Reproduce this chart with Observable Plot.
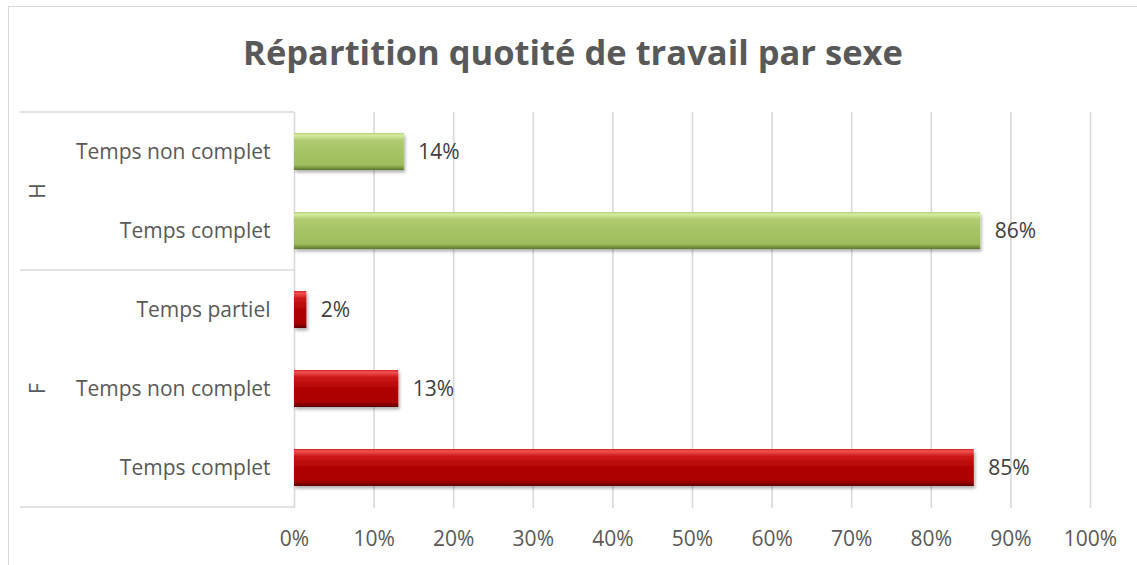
<!DOCTYPE html>
<html>
<head>
<meta charset="utf-8">
<script src="https://cdn.jsdelivr.net/npm/d3@7"></script>
<script src="https://cdn.jsdelivr.net/npm/@observablehq/plot@0.6"></script>
<style>
  html, body { margin: 0; padding: 0; background: #fff; }
  #wrap { position: relative; width: 1137px; height: 565px; overflow: hidden; font-family: "Open Sans", sans-serif; }
  #frame { position: absolute; left: 8px; top: 6px; width: 1200px; height: 700px; border-left: 1.5px solid #d9d9d9; border-top: 1.5px solid #d9d9d9; box-sizing: border-box; }
  #title { position: absolute; left: 8px; width: 1130px; top: 30px; text-align: center; font-weight: bold; font-size: 30px; line-height: 44px; color: #595959; font-family: "Open Sans", sans-serif; }
  #title span { display: inline-block; }
  #chart { position: absolute; left: 0; top: 90px; }
</style>
</head>
<body>
<div id="wrap">
  <div id="frame"></div>
  <div id="title"><span id="tt">Répartition quotité de travail par sexe</span></div>
  <div id="chart"></div>
</div>
<script>
// ---- data ----
const groups = ["H", "F"];
const categoriesH = ["Temps non complet", "Temps complet"];
const valuesH = [0.138, 0.862];
const categoriesF = ["Temps partiel", "Temps non complet", "Temps complet"];
const valuesF = [0.0155, 0.131, 0.854];
const xTicks = [0, 0.1, 0.2, 0.3, 0.4, 0.5, 0.6, 0.7, 0.8, 0.9, 1.0];

const rowsH = categoriesH.map((c, i) => ({group: "H", category: c, key: "H|" + c, value: valuesH[i]}));
const rowsF = categoriesF.map((c, i) => ({group: "F", category: c, key: "F|" + c, value: valuesF[i]}));
const rows = rowsH.concat(rowsF);
const pct = d3.format(".0%");

// fit title width to the reference (~660px)
const tt = document.getElementById("tt");
const tw = tt.getBoundingClientRect().width;
if (tw > 0) document.getElementById("title").style.fontSize = (30 * 660 / tw).toFixed(2) + "px";

const W = 1137, H = 475;
const plot = Plot.plot({
  width: W,
  height: H,
  marginTop: 22,
  marginBottom: 57,
  marginLeft: 294,
  marginRight: 47,
  style: {fontFamily: "'Open Sans', sans-serif", fontSize: "21px", color: "#595959", background: "transparent", overflow: "visible"},
  x: {domain: [0, 1], ticks: xTicks, tickFormat: pct, tickSize: 0, tickPadding: 23, label: null},
  y: {domain: rows.map(d => d.key), tickFormat: k => k.split("|")[1], tickSize: 0, tickPadding: 24, label: null, paddingInner: 0.53, paddingOuter: 0.265},
  marks: [
    Plot.ruleX(xTicks, {stroke: "#d9d9d9", strokeWidth: 1.6}),
    Plot.barX(rowsH, {x: "value", y: "key", fill: "#9bbb59"}),
    Plot.barX(rowsF, {x: "value", y: "key", fill: "#c00000"}),
    Plot.text(rows, {x: "value", y: "key", text: d => pct(d.value), dx: 14, textAnchor: "start", fill: "#404040", fontSize: 21})
  ]
});
document.getElementById("chart").appendChild(plot);

// gradients for the bevelled bars
const svg = d3.select(plot);
const defs = svg.insert("defs", ":first-child");
function grad(id, stops) {
  const g = defs.append("linearGradient").attr("id", id).attr("x1", 0).attr("y1", 0).attr("x2", 0).attr("y2", 1);
  stops.forEach(([o, c]) => g.append("stop").attr("offset", o).attr("stop-color", c));
}
grad("gH", [[0, "#b5d076"], [0.06, "#d6eca0"], [0.2, "#b0cc70"], [0.5, "#a5c465"], [0.86, "#9fbd5c"], [0.93, "#7f9c43"], [1, "#5a742c"]]);
grad("gF", [[0, "#d82424"], [0.06, "#f25252"], [0.2, "#cc1818"], [0.5, "#b00404"], [0.86, "#a80000"], [0.93, "#880000"], [1, "#5a0000"]]);
const f = defs.append("filter").attr("id", "sh").attr("x", "-5%").attr("y", "-20%").attr("width", "115%").attr("height", "160%");
f.append("feDropShadow").attr("dx", 1.5).attr("dy", 2.5).attr("stdDeviation", 1.5).attr("flood-color", "#000").attr("flood-opacity", 0.3);
svg.selectAll('g[fill="#9bbb59"]').attr("fill", "url(#gH)").attr("filter", "url(#sh)");
svg.selectAll('g[fill="#c00000"]').attr("fill", "url(#gF)").attr("filter", "url(#sh)");

// multi-level category axis: separators and group labels
const ys = plot.scale("y");
const [r0, r1] = ys.range;
const gap = (ys.step - ys.bandwidth) / 2;
const lineX1 = 20, lineX2 = 294;
const seps = [r0];
const grpG = svg.append("g");
groups.forEach((g, gi) => {
  const keys = rows.filter(d => d.group === g).map(d => d.key);
  const top = ys.apply(keys[0]) - gap;
  const bot = ys.apply(keys[keys.length - 1]) + ys.bandwidth + gap;
  seps.push(bot);
  const cy = (top + bot) / 2;
  grpG.append("text").attr("transform", `translate(38,${cy}) rotate(-90)`)
    .attr("text-anchor", "middle").attr("dy", "0.35em")
    .attr("fill", "#595959").attr("font-size", 21).text(g);
});
seps.forEach(y => {
  grpG.append("line").attr("x1", lineX1).attr("x2", lineX2).attr("y1", y).attr("y2", y)
    .attr("stroke", "#d9d9d9").attr("stroke-width", 1.6);
});
</script>
</body>
</html>
